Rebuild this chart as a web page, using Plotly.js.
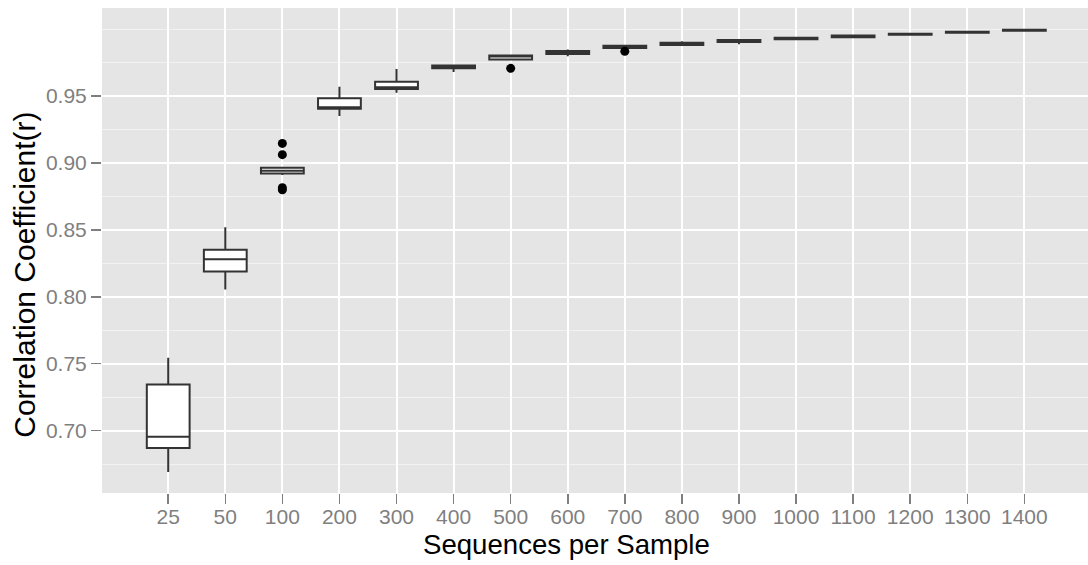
<!DOCTYPE html>
<html>
<head>
<meta charset="utf-8">
<script src="https://cdn.plot.ly/plotly-3.0.1.min.js"></script>
<style>
  html, body { margin: 0; padding: 0; background: #ffffff; overflow: hidden; }
  #chart { width: 1088px; height: 565px; }
</style>
</head>
<body>
<div id="chart"></div>
<script>
// Sequences per sample (rarefaction depth)
const categories = ['25', '50', '100', '200', '300', '400', '500', '600',
                    '700', '800', '900', '1000', '1100', '1200', '1300', '1400'];

// Box statistics of the correlation coefficient at each depth
const lowerWhisker = [0.6690, 0.8055, 0.8910, 0.9351, 0.9525, 0.9680, 0.9770, 0.9797,
                      0.9855, 0.9879, 0.9887, 0.9920, 0.9938, 0.9956, 0.9971, 0.9987];
const q1Values     = [0.6870, 0.8190, 0.8922, 0.9405, 0.9552, 0.9707, 0.9774, 0.9814,
                      0.9859, 0.9882, 0.9904, 0.9924, 0.9940, 0.9958, 0.9973, 0.9988];
const medianValues = [0.6955, 0.8280, 0.8942, 0.9416, 0.9565, 0.9717, 0.9799, 0.9826,
                      0.9868, 0.9890, 0.9911, 0.9930, 0.9947, 0.9962, 0.9977, 0.9991];
const q3Values     = [0.7345, 0.8352, 0.8964, 0.9483, 0.9607, 0.9729, 0.9804, 0.9836,
                      0.9876, 0.9899, 0.9918, 0.9936, 0.9953, 0.9966, 0.9981, 0.9995];
const upperWhisker = [0.7545, 0.8519, 0.8970, 0.9570, 0.9702, 0.9731, 0.9806, 0.9847,
                      0.9878, 0.9910, 0.9920, 0.9940, 0.9956, 0.9968, 0.9983, 0.9996];

// Points beyond the whiskers
const outlierX = ['100', '100', '100', '100', '500', '700'];
const outlierY = [0.9146, 0.9062, 0.8815, 0.8800, 0.9707, 0.9834];

// Axis labelling
const yTickValues = [0.70, 0.75, 0.80, 0.85, 0.90, 0.95];
const yMinorValues = [0.675, 0.725, 0.775, 0.825, 0.875, 0.925, 0.975, 1.000];
const xTitle = 'Sequences per Sample';
const yTitle = 'Correlation Coefficient(r)';

const FONT = '"Liberation Sans", Arial, Helvetica, sans-serif';

const boxes = {
  type: 'box',
  x: categories,
  q1: q1Values,
  median: medianValues,
  q3: q3Values,
  lowerfence: lowerWhisker,
  upperfence: upperWhisker,
  width: 0.75,
  whiskerwidth: 0,
  fillcolor: '#ffffff',
  line: { color: '#333333', width: 2 },
  boxpoints: false,
  hoverinfo: 'skip',
  showlegend: false
};

const outliers = {
  type: 'scatter',
  mode: 'markers',
  x: outlierX,
  y: outlierY,
  marker: { color: '#000000', size: 9 },
  hoverinfo: 'skip',
  showlegend: false
};

const layout = {
  width: 1088,
  height: 565,
  margin: { l: 102, r: 0, t: 8, b: 72 },
  paper_bgcolor: '#ffffff',
  plot_bgcolor: '#E5E5E5',
  font: { family: FONT, color: '#000000' },
  xaxis: {
    type: 'category',
    categoryorder: 'array',
    categoryarray: categories,
    range: [-1.16, 16.115],
    showgrid: true,
    gridcolor: '#ffffff',
    gridwidth: 2,
    zeroline: false,
    showline: false,
    ticks: 'outside',
    ticklen: 10,
    tickwidth: 1.5,
    tickcolor: '#7F7F7F',
    ticklabelstandoff: -5,
    tickfont: { family: FONT, size: 21, color: '#7F7F7F' },
    fixedrange: true
  },
  yaxis: {
    range: [0.6534, 1.0158],
    tickmode: 'array',
    tickvals: yTickValues,
    tickformat: '.2f',
    showgrid: true,
    gridcolor: '#ffffff',
    gridwidth: 2,
    minor: {
      tickmode: 'array',
      tickvals: yMinorValues,
      showgrid: true,
      gridcolor: '#F2F2F2',
      gridwidth: 1,
      ticks: ''
    },
    zeroline: false,
    showline: false,
    ticks: 'outside',
    ticklen: 10,
    tickwidth: 1.5,
    tickcolor: '#7F7F7F',
    ticklabelstandoff: 0,
    tickfont: { family: FONT, size: 21, color: '#7F7F7F' },
    fixedrange: true
  },
  annotations: [
    {
      text: xTitle,
      xref: 'paper', yref: 'paper',
      x: 0.4716, y: -0.1423,
      xanchor: 'center', yanchor: 'bottom',
      showarrow: false,
      font: { family: FONT, size: 27.6, color: '#000000' }
    },
    {
      text: yTitle,
      xref: 'paper', yref: 'paper',
      x: -0.0786, y: 0.449,
      xanchor: 'center', yanchor: 'middle',
      textangle: -90,
      showarrow: false,
      font: { family: FONT, size: 30, color: '#000000' }
    }
  ]
};

Plotly.newPlot('chart', [boxes, outliers], layout, { displayModeBar: false, staticPlot: true });
</script>
</body>
</html>
